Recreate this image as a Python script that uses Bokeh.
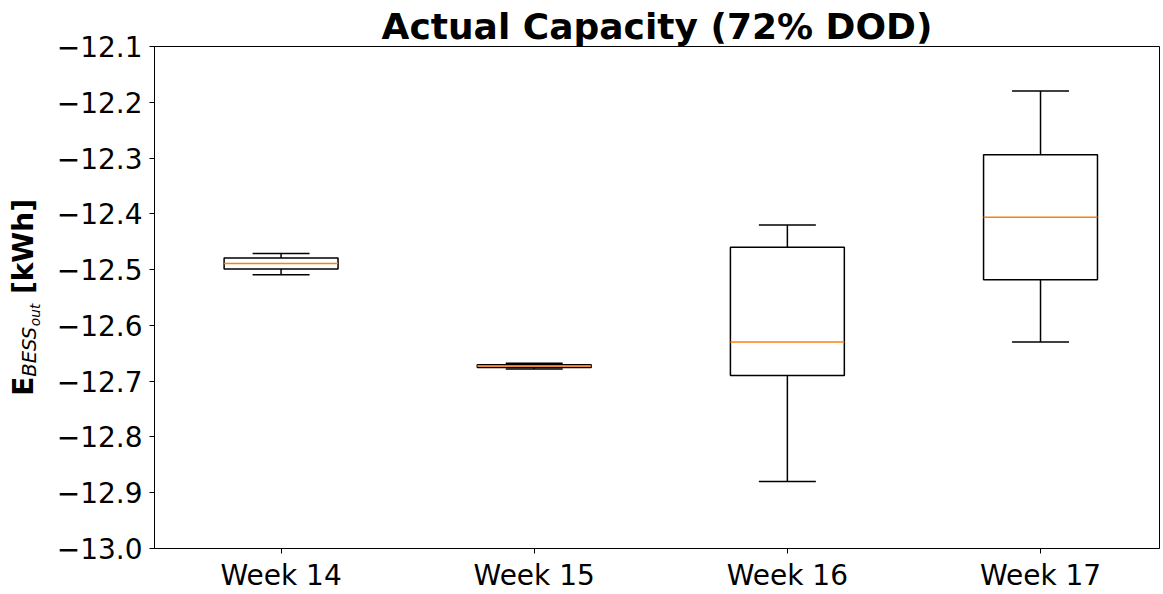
from bokeh.plotting import figure
from bokeh.layouts import row
from bokeh.models import ColumnDataSource, Range1d, FixedTicker, CustomJSTickFormatter
from bokeh.core.properties import value
from bokeh.embed import file_html
from bokeh.resources import INLINE

# Weekly discharge energy statistics (kWh)
weeks = ["Week 14", "Week 15", "Week 16", "Week 17"]
whisker_low = [-12.509, -12.678, -12.880, -12.630]
q1 = [-12.499, -12.6755, -12.690, -12.518]
median = [-12.489, -12.673, -12.630, -12.406]
q3 = [-12.479, -12.6705, -12.460, -12.294]
whisker_high = [-12.471, -12.668, -12.420, -12.180]
y_ticks = [-13.0, -12.9, -12.8, -12.7, -12.6, -12.5, -12.4, -12.3, -12.2, -12.1]

BOX_W = 0.45
positions = [i + 1 for i in range(len(weeks))]

W, H = 1163, 594
LABEL_W = 48
TOP, BOTTOM = 46, 45

src = ColumnDataSource(dict(
    x=positions,
    lo=whisker_low, q1=q1, med=median, q3=q3, hi=whisker_high,
    left=[x - BOX_W / 2 for x in positions],
    right=[x + BOX_W / 2 for x in positions],
    capl=[x - BOX_W / 4 for x in positions],
    capr=[x + BOX_W / 4 for x in positions],
))

p = figure(width=W - LABEL_W, height=H,
           x_range=Range1d(0.5, 4.47), y_range=Range1d(y_ticks[0], y_ticks[-1]),
           min_border_left=154 - LABEL_W, min_border_right=4,
           min_border_top=TOP, min_border_bottom=BOTTOM,
           output_backend="svg", toolbar_location=None)

p.title.text = "Actual Capacity (72% DOD)"
p.title.text_font = "DejaVu Sans"
p.title.text_font_size = "36px"
p.title.text_font_style = "bold"
p.title.text_color = "black"
p.title.align = "center"
p.title.standoff = 0

p.xgrid.visible = False
p.ygrid.visible = False
p.outline_line_color = "black"
p.outline_line_width = 1
p.outline_line_alpha = 1.0
p.background_fill_color = "white"
p.border_fill_color = "white"

for ax in (p.xaxis, p.yaxis):
    ax.axis_line_color = "black"
    ax.major_tick_line_color = "black"
    ax.major_tick_out = 5
    ax.major_tick_in = 0
    ax.minor_tick_out = 0
    ax.minor_tick_in = 0
    ax.major_label_text_font = "DejaVu Sans"
    ax.major_label_text_font_size = "28px"
    ax.major_label_text_color = "black"
p.yaxis.major_label_standoff = 7
p.xaxis.major_label_standoff = 5

p.xaxis.ticker = FixedTicker(ticks=positions)
p.xaxis.major_label_overrides = {x: w for x, w in zip(positions, weeks)}
p.yaxis.ticker = FixedTicker(ticks=y_ticks)
p.yaxis.formatter = CustomJSTickFormatter(code="return tick.toFixed(1).replace('-', '\u2212');")

LW = 1.5
# whiskers
p.segment(x0="x", y0="q3", x1="x", y1="hi", source=src, line_color="black", line_width=LW)
p.segment(x0="x", y0="q1", x1="x", y1="lo", source=src, line_color="black", line_width=LW)
# caps
p.segment(x0="capl", y0="hi", x1="capr", y1="hi", source=src, line_color="black", line_width=LW)
p.segment(x0="capl", y0="lo", x1="capr", y1="lo", source=src, line_color="black", line_width=LW)
# boxes
p.quad(left="left", right="right", bottom="q1", top="q3", source=src,
       fill_color=None, line_color="black", line_width=LW)
# medians
p.segment(x0="left", y0="med", x1="right", y1="med", source=src,
          line_color="#ff7f0e", line_width=LW)

# Narrow strip on the left carrying the y-axis label: bold E, italic subscript
# BESS, smaller sub-subscript "out", then bold [kWh]. Its frame lines up with the
# main frame, so the range is set so that data y equals pixels measured upward
# from the bottom of the page.
lab = figure(width=LABEL_W, height=H,
             x_range=Range1d(0, LABEL_W), y_range=Range1d(H - (H - BOTTOM), H - TOP),
             title=None, x_axis_location=None, y_axis_location=None,
             min_border_left=0, min_border_right=0,
             min_border_top=TOP, min_border_bottom=BOTTOM,
             output_backend="svg", toolbar_location=None)
lab.grid.visible = False
lab.outline_line_color = None
lab.background_fill_color = "white"
lab.border_fill_color = "white"

def ylab(text, y_from_top, x_pos, size, style):
    lab.text(x=[x_pos], y=[H - y_from_top], text=[text], angle=1.5707963,
             text_align="left", text_baseline="alphabetic",
             text_font=value("DejaVu Sans"), text_font_size=f"{size}px",
             text_font_style=style, text_color="black")

ylab("E", 396, 23, 28, "bold")
ylab("BESS", 376.9, 29, 19.6, "italic")
ylab("out", 326.2, 34, 13.7, "italic")
ylab("[kWh]", 294.1, 23, 28, "bold")

layout = row(lab, p, spacing=0)
open("out.html", "w").write(file_html(layout, INLINE))
